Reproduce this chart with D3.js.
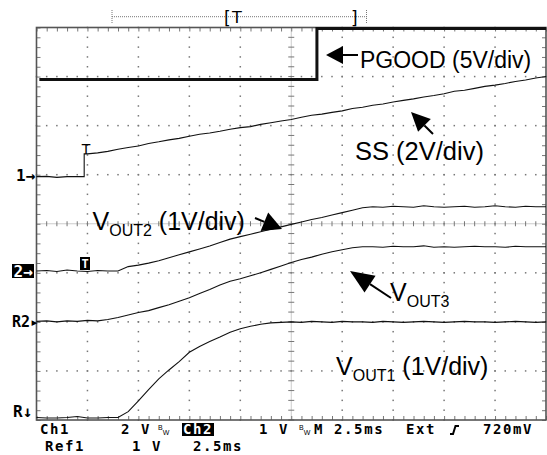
<!DOCTYPE html>
<html><head><meta charset="utf-8">
<script src="https://cdn.jsdelivr.net/npm/d3@7"></script>
<style>body{margin:0;background:#fff}svg{display:block}</style>
</head><body>
<svg id="c" width="547" height="455"></svg>
<script>
// ---- data (time in ms, voltages in V) ----
const timeMs = [0,0.5,1,1.5,2,2.5,3,3.5,4,4.5,5,5.5,6,6.5,7,7.5,8,8.5,9,9.5,10,10.5,11,11.5,12,12.5,13,13.5,14,14.5,15,15.5,16,16.5,17,17.5,18,18.5,19,19.5,20,20.5,21,21.5,22,22.5,23,23.5,24,24.5,25];
const pgoodTime = [0.14,13.76,13.76,25];
const pgoodVolts = [0,0,5.2,5.2];
const ssTime = [0,0.5,1,1.5,2,2.34,2.34,2.5,3,3.5,4,4.5,5,5.5,6,6.5,7,7.5,8,8.5,9,9.5,10,10.5,11,11.5,12,12.5,13,13.5,14,14.5,15,15.5,16,16.5,17,17.5,18,18.5,19,19.5,20,20.5,21,21.5,22,22.5,23,23.5,24,24.5,25];
const ssVolts = [0.00,0.01,-0.03,0.00,0.00,0.00,0.93,0.93,0.97,1.03,1.12,1.19,1.25,1.35,1.42,1.50,1.56,1.65,1.73,1.78,1.85,1.93,2.00,2.04,2.13,2.20,2.27,2.33,2.42,2.50,2.55,2.62,2.68,2.78,2.83,2.91,2.96,3.04,3.11,3.17,3.25,3.31,3.38,3.48,3.52,3.60,3.68,3.73,3.80,3.88,3.94,4.02,4.08];
const vout2Volts = [0.00,0.01,-0.01,0.02,0.00,-0.01,0.01,0.00,0.00,0.09,0.12,0.16,0.21,0.27,0.33,0.39,0.45,0.51,0.58,0.65,0.70,0.75,0.80,0.85,0.90,0.95,1.00,1.05,1.09,1.14,1.19,1.24,1.29,1.31,1.30,1.32,1.31,1.30,1.33,1.31,1.30,1.31,1.32,1.30,1.31,1.33,1.31,1.30,1.32,1.31,1.31];
const vout3Volts = [0.00,0.01,-0.01,0.01,0.00,0.02,0.01,0.04,0.08,0.13,0.18,0.22,0.28,0.34,0.41,0.48,0.57,0.65,0.74,0.82,0.87,0.93,0.99,1.06,1.13,1.20,1.26,1.31,1.37,1.42,1.46,1.50,1.52,1.52,1.51,1.53,1.52,1.52,1.54,1.51,1.52,1.51,1.52,1.53,1.52,1.52,1.51,1.53,1.52,1.52,1.52];
const vout1Volts = [0.01,0.00,0.00,0.01,0.03,0.00,0.00,0.01,0.01,0.13,0.35,0.58,0.80,0.98,1.15,1.34,1.46,1.56,1.65,1.75,1.82,1.87,1.91,1.94,1.95,1.96,1.95,1.97,1.96,1.95,1.97,1.96,1.96,1.95,1.97,1.96,1.95,1.96,1.97,1.96,1.95,1.96,1.97,1.96,1.96,1.95,1.96,1.97,1.96,1.95,1.96];
const voltsPerDiv = {pgood:5, ss:2, vout2:1, vout3:1, vout1:1};
const groundDiv = {pgood:2.94, ss:0.96, vout2:-0.963, vout3:-1.99, vout1:-3.96};
const bottomRow1 = [["Ch1",40],["2 V",121],["1 V",259],["M 2.5ms",314],["Ext",406],["720mV",483]];
const bottomRow2 = [["Ref1",45],["1 V",132],["2.5ms",193]];

// ---- scales ----
const svg = d3.select('#c');
const x = d3.scaleLinear().domain([0,25]).range([36.5,546]);
const y = d3.scaleLinear().domain([-4,4]).range([420,27.5]);
const X0 = x(0), X1 = x(25), Y0 = y(4), Y1 = y(-4);
const gridCol = '#777';

// ---- graticule ----
const g = svg.append('g');
const subT = d3.range(0,25.001,0.5);
const subV = d3.range(-4,4.001,0.2);
for (let i=1;i<10;i++){ if(i===5) continue;
  const xx = x(i*2.5);
  subV.forEach(v=>g.append('rect').attr('x',xx-0.75).attr('y',y(v)-0.75).attr('width',1.5).attr('height',1.5).attr('fill',gridCol));
}
for (let j=-3;j<=3;j++){ if(j===0) continue;
  const yy = y(j);
  subT.forEach(t=>g.append('rect').attr('x',x(t)-0.75).attr('y',yy-0.75).attr('width',1.5).attr('height',1.5).attr('fill',gridCol));
}
g.append('line').attr('x1',x(12.5)).attr('x2',x(12.5)).attr('y1',Y0).attr('y2',Y1).attr('stroke','#999').attr('stroke-dasharray','1,1');
g.append('line').attr('x1',X0).attr('x2',X1).attr('y1',y(0)).attr('y2',y(0)).attr('stroke','#999').attr('stroke-dasharray','1,1');
subV.forEach(v=>g.append('line').attr('x1',x(12.5)-3).attr('x2',x(12.5)+3).attr('y1',y(v)).attr('y2',y(v)).attr('stroke',gridCol));
subT.forEach(t=>g.append('line').attr('x1',x(t)).attr('x2',x(t)).attr('y1',y(0)-2.5).attr('y2',y(0)+2.5).attr('stroke',gridCol));
const tk = (ax)=>ax.tickSize(4).tickFormat('').tickSizeOuter(0);
const axG = [
  [d3.axisBottom(x).tickValues(subT), `translate(0,${Y0})`],
  [d3.axisTop(x).tickValues(subT), `translate(0,${Y1})`],
  [d3.axisRight(y).tickValues(subV), `translate(${X0},0)`],
  [d3.axisLeft(y).tickValues(subV), `translate(${X1},0)`]
];
axG.forEach(([ax,tr])=>{
  const a = g.append('g').attr('transform',tr).call(tk(ax));
  a.select('.domain').remove();
  a.selectAll('line').attr('stroke',gridCol);
});
g.append('rect').attr('x',X0).attr('y',Y0).attr('width',X1-X0).attr('height',Y1-Y0)
 .attr('fill','none').attr('stroke','#555').attr('stroke-width',1.6);

// ---- traces ----
const line = d3.line().x(d=>x(d[0])).y(d=>y(d[1]));
const traces = [
  {k:'vout1', t:timeMs, v:vout1Volts, w:1.1},
  {k:'vout3', t:timeMs, v:vout3Volts, w:1.1},
  {k:'vout2', t:timeMs, v:vout2Volts, w:1.1},
  {k:'ss', t:ssTime, v:ssVolts, w:1.1},
  {k:'pgood', t:pgoodTime, v:pgoodVolts, w:3}
];
traces.forEach(tr=>{
  const pts = d3.zip(tr.t, tr.v).map(([t,v])=>[t, groundDiv[tr.k] + v/voltsPerDiv[tr.k]]);
  svg.append('path').attr('d',line(pts)).attr('fill','none').attr('stroke','#111')
     .attr('stroke-width',tr.w).attr('stroke-linejoin','miter');
});

// ---- trigger markers ----
const sans = 'Liberation Sans, Arial, sans-serif';
const mono = 'DejaVu Sans Mono, monospace';
svg.append('text').attr('x',86).attr('y',y(groundDiv.ss + ssVolts[6]/2)+0.5).attr('text-anchor','middle')
  .attr('font-family','DejaVu Sans').attr('font-size',14).text('T');
svg.append('rect').attr('x',80).attr('y',257).attr('width',10).attr('height',13).attr('fill','#000');
svg.append('text').attr('x',85).attr('y',268).attr('text-anchor','middle').attr('fill','#fff')
  .attr('font-family',mono).attr('font-weight','bold').attr('font-size',12).text('T');

// ---- channel markers ----
svg.append('text').attr('x',16).attr('y',181).attr('font-family',mono).attr('font-size',16).attr('font-weight','bold').text('1→');
svg.append('rect').attr('x',12).attr('y',264).attr('width',22).attr('height',14).attr('fill','#000');
svg.append('text').attr('x',13.5).attr('y',276.5).attr('fill','#fff').attr('font-family',mono).attr('font-size',16).attr('font-weight','bold').text('2→');
svg.append('text').attr('x',12).attr('y',327).attr('font-family',mono).attr('font-size',15).attr('font-weight','bold').text('R2▸');
svg.append('text').attr('x',13).attr('y',417).attr('font-family',mono).attr('font-size',16).attr('font-weight','bold').text('R↓');

// ---- trigger position bar ----
svg.append('line').attr('x1',112).attr('x2',367).attr('y1',16.7).attr('y2',16.7).attr('stroke','#777').attr('stroke-dasharray','1,1');
[112,366.5].forEach(xx=>svg.append('line').attr('x1',xx).attr('x2',xx).attr('y1',10).attr('y2',23).attr('stroke','#777').attr('stroke-dasharray','1,1'));
svg.append('text').attr('x',224).attr('y',23.5).attr('font-family','DejaVu Sans').attr('font-size',17).text('[');
svg.append('text').attr('x',232).attr('y',22.5).attr('font-family','DejaVu Sans').attr('font-size',16).text('T');
svg.append('text').attr('x',351).attr('y',23.5).attr('font-family','DejaVu Sans').attr('font-size',17).text(']');

// ---- annotations ----
function arrow(x0,y0,x1,y1,len,hw){
  const dx=x1-x0, dy=y1-y0, L=Math.hypot(dx,dy), ux=dx/L, uy=dy/L;
  const bx=x1-ux*len, by=y1-uy*len;
  svg.append('line').attr('x1',x0).attr('y1',y0).attr('x2',bx).attr('y2',by).attr('stroke','#000').attr('stroke-width',2);
  svg.append('path').attr('d',`M${x1},${y1}L${bx-uy*hw},${by+ux*hw}L${bx+uy*hw},${by-ux*hw}Z`).attr('fill','#000');
}
arrow(358,55,326,55,17,9);
arrow(433,134,411,112,19,9);
arrow(255,218,282,229,19,10);
arrow(391,298,350,271,24,10);

svg.append('text').attr('x',360).attr('y',68).attr('font-family',sans).attr('font-size',23).text('PGOOD (5V/div)');
svg.append('text').attr('x',355).attr('y',160).attr('font-family',sans).attr('font-size',25.5).text('SS (2V/div)');
function vlabel(xx,yy,sub,rest){
  const t = svg.append('text').attr('x',xx).attr('y',yy).attr('font-family',sans).attr('font-size',25);
  t.append('tspan').text('V');
  t.append('tspan').attr('font-size',16).attr('dy',6).text(sub);
  if(rest) t.append('tspan').attr('dy',-6).text(rest);
}
vlabel(92.5,230,'OUT2',' (1V/div)');
vlabel(390,301,'OUT3',null);
vlabel(336,375,'OUT1',' (1V/div)');

// ---- bottom readout ----
const ro = svg.append('g').attr('font-family',mono).attr('font-size',14).attr('font-weight','bold').attr('letter-spacing',1.6);
bottomRow1.forEach(([s,xx])=>ro.append('text').attr('x',xx).attr('y',434).text(s));
bottomRow2.forEach(([s,xx])=>ro.append('text').attr('x',xx).attr('y',451).text(s));
svg.append('rect').attr('x',182).attr('y',423).attr('width',32).attr('height',13).attr('fill','#000');
svg.append('text').attr('x',183).attr('y',434).attr('fill','#fff').attr('font-family',mono).attr('font-size',14)
  .attr('font-weight','bold').attr('letter-spacing',1.6).text('Ch2');
[158,299].forEach(xx=>{
  const bw = svg.append('text').attr('x',xx).attr('y',430).attr('font-family',sans).attr('font-size',7);
  bw.append('tspan').text('B');
  bw.append('tspan').attr('dy',5).text('W');
});
svg.append('path').attr('d','M450,434L453,434L455.5,426L459,426').attr('fill','none').attr('stroke','#000').attr('stroke-width',2);
</script>
</body></html>
